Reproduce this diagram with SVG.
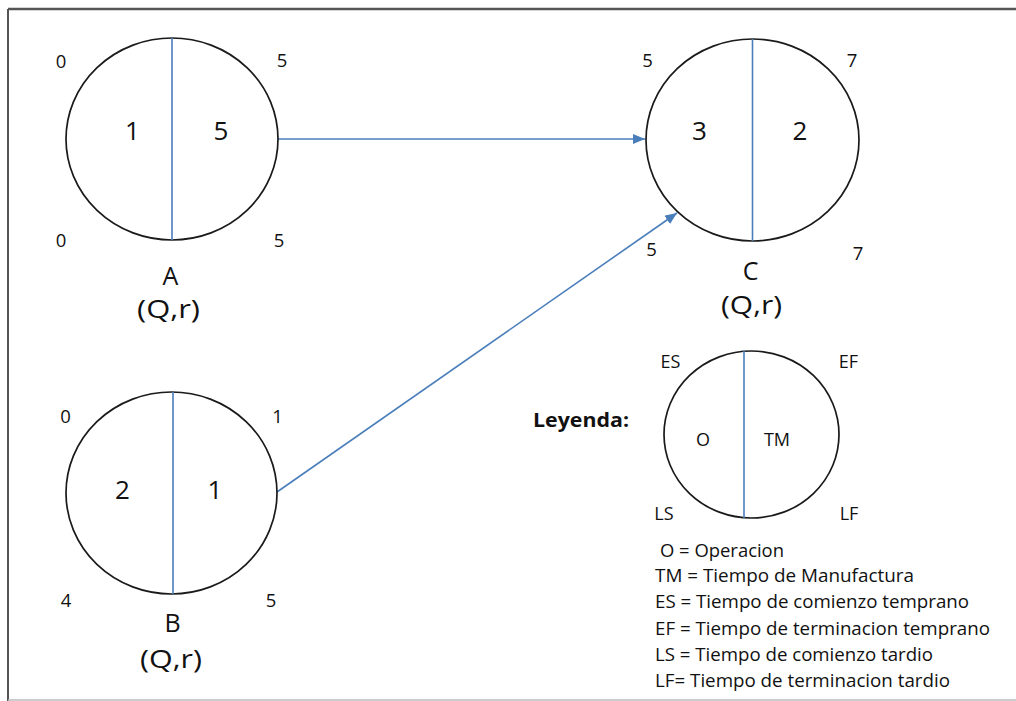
<svg xmlns="http://www.w3.org/2000/svg" width="1016" height="701" viewBox="0 0 1016 701">
<defs>
<marker id="ah" markerUnits="userSpaceOnUse" markerWidth="13" markerHeight="11" refX="12" refY="5" orient="auto">
<path d="M0,0 L12,5 L0,10 z" fill="#4a7ebb"/>
</marker>
</defs>
<style>
text{font-family:"Open Sans","Liberation Sans",sans-serif;fill:#111}
.sm{font-size:18.5px;text-anchor:middle}
.big{font-size:26px;text-anchor:middle}
.lab{font-size:25px;text-anchor:middle}
.leg{font-size:18px}
.ll{font-size:18px;text-anchor:middle}
.ttl{font-size:19px;font-weight:bold}
.circ{fill:none;stroke:#1a1a1a;stroke-width:1.7}
.div{stroke:#4a7ebb;stroke-width:1.6}
.conn{stroke:#4a7ebb;stroke-width:1.6;fill:none;marker-end:url(#ah)}
</style>
<rect width="1016" height="701" fill="#ffffff"/>
<g id="frame">
<line x1="8" y1="9" x2="1016" y2="9" stroke="#555" stroke-width="2.5"/>
<line x1="8" y1="9" x2="8" y2="701" stroke="#555" stroke-width="2"/>
<line x1="8" y1="700" x2="1016" y2="700" stroke="#bbb" stroke-width="1.5"/>
</g>
<g id="connectors">
<line class="conn" x1="278" y1="139" x2="645" y2="139"/>
<line class="conn" x1="277" y1="492" x2="677" y2="213"/>
</g>
<g id="node-A">
<ellipse class="circ" cx="172" cy="139" rx="106" ry="101"/>
<line class="div" x1="172" y1="38" x2="172" y2="240"/>
<text class="sm" x="61" y="68">0</text>
<text class="sm" x="282" y="67">5</text>
<text class="sm" x="61" y="247">0</text>
<text class="sm" x="279" y="247">5</text>
<text class="big" x="132.5" y="140">1</text>
<text class="big" x="221" y="140">5</text>
<text class="lab" x="170.5" y="285">A</text>
<text class="lab" x="168.5" y="318" textLength="63" lengthAdjust="spacingAndGlyphs">(Q,r)</text>
</g>
<g id="node-B">
<ellipse class="circ" cx="171.5" cy="493" rx="105.5" ry="101"/>
<line class="div" x1="173" y1="392" x2="173" y2="594"/>
<text class="sm" x="65.5" y="423">0</text>
<text class="sm" x="277.5" y="423">1</text>
<text class="sm" x="66" y="607">4</text>
<text class="sm" x="271" y="607">5</text>
<text class="big" x="122.5" y="499">2</text>
<text class="big" x="215" y="499">1</text>
<text class="lab" x="172.5" y="632">B</text>
<text class="lab" x="171" y="668" textLength="62" lengthAdjust="spacingAndGlyphs">(Q,r)</text>
</g>
<g id="node-C">
<ellipse class="circ" cx="752.5" cy="140" rx="106.5" ry="101"/>
<line class="div" x1="752.5" y1="39" x2="752.5" y2="241"/>
<text class="sm" x="647.5" y="67">5</text>
<text class="sm" x="852" y="67">7</text>
<text class="sm" x="651.5" y="256">5</text>
<text class="sm" x="858" y="260">7</text>
<text class="big" x="699.5" y="140">3</text>
<text class="big" x="800" y="140">2</text>
<text class="lab" x="750.5" y="280">C</text>
<text class="lab" x="751.5" y="314" textLength="61" lengthAdjust="spacingAndGlyphs">(Q,r)</text>
</g>
<g id="legend">
<text class="ttl" x="533" y="427" textLength="96" lengthAdjust="spacingAndGlyphs">Leyenda:</text>
<ellipse class="circ" cx="751.5" cy="434.5" rx="87.5" ry="83.5"/>
<line class="div" x1="744" y1="351" x2="744" y2="518"/>
<text class="ll" x="670.5" y="368">ES</text>
<text class="ll" x="848.5" y="368">EF</text>
<text class="ll" x="664" y="520">LS</text>
<text class="ll" x="849" y="520">LF</text>
<text class="ll" x="703" y="446">O</text>
<text class="ll" x="777" y="446">TM</text>
<text class="leg" x="660" y="557" textLength="124" lengthAdjust="spacingAndGlyphs">O = Operacion</text>
<text class="leg" x="655" y="582" textLength="259" lengthAdjust="spacingAndGlyphs">TM = Tiempo de Manufactura</text>
<text class="leg" x="655" y="608" textLength="314" lengthAdjust="spacingAndGlyphs">ES = Tiempo de comienzo temprano</text>
<text class="leg" x="655" y="635" textLength="335" lengthAdjust="spacingAndGlyphs">EF = Tiempo de terminacion temprano</text>
<text class="leg" x="655" y="661" textLength="278" lengthAdjust="spacingAndGlyphs">LS = Tiempo de comienzo tardio</text>
<text class="leg" x="655" y="687" textLength="295" lengthAdjust="spacingAndGlyphs">LF= Tiempo de terminacion tardio</text>
</g>
</svg>
